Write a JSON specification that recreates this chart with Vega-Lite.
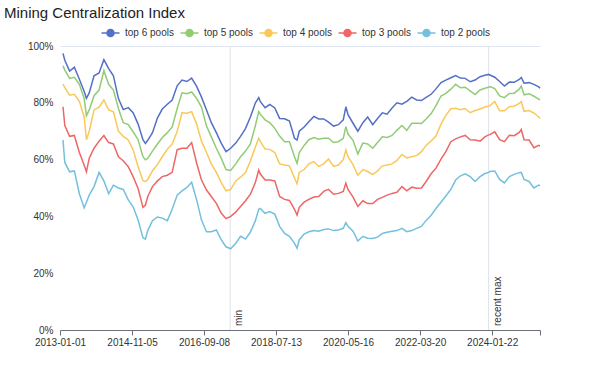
{
  "$schema": "https://vega.github.io/schema/vega-lite/v6.json",
  "width": 480,
  "height": 284,
  "autosize": {"type": "none"},
  "padding": {"left": 60, "top": 46, "right": 60, "bottom": 54},
  "background": "white",
  "config": {"view": {"stroke": null}, "font": "Liberation Sans"},
  "title": {"text": "Mining Centralization Index", "anchor": "start", "frame": "group", "dx": -56, "offset": 6, "fontSize": 15, "fontWeight": "normal", "color": "#222222"},
  "encoding": {
    "x": {"field": "d", "type": "temporal",
      "scale": {"type": "utc", "domain": [{"year": 2013, "month": 1, "date": 1, "utc": true}, {"year": 2025, "month": 4, "date": 13, "utc": true}]},
      "axis": {"title": null, "grid": false,
        "values": [{"year": 2013, "month": 1, "date": 1, "utc": true}, {"year": 2014, "month": 11, "date": 5, "utc": true}, {"year": 2016, "month": 9, "date": 8, "utc": true}, {"year": 2018, "month": 7, "date": 13, "utc": true}, {"year": 2020, "month": 5, "date": 16, "utc": true}, {"year": 2022, "month": 3, "date": 20, "utc": true}, {"year": 2024, "month": 1, "date": 22, "utc": true}, {"year": 2025, "month": 4, "date": 13, "utc": true}],
        "labelExpr": "utcyear(datum.value) == 2025 ? '' : utcFormat(datum.value, '%Y-%m-%d')",
        "labelOverlap": false, "labelBound": false, "labelFlush": false,
        "domainColor": "#6e7079", "tickColor": "#6e7079", "tickSize": 5, "labelPadding": 2,
        "labelFontSize": 10, "labelColor": "#333333"}}
  },
  "layer": [
    {"data": {"values": [{"d": "2017-05-10", "label": "min"}, {"d": "2023-12-20", "label": "recent max"}]},
     "mark": {"type": "rule", "color": "#dde1e8", "strokeWidth": 1},
     "encoding": {}},
    {"encoding": {
      "y": {"field": "v", "type": "quantitative",
        "scale": {"domain": [0, 100], "nice": false},
        "axis": {"title": null, "values": [0, 20, 40, 60, 80, 100], "labelExpr": "datum.value + '%'", "domain": false, "ticks": false, "labelPadding": 7, "labelFontSize": 10, "labelColor": "#333333",
          "gridColor": "#e0e6f1", "gridOpacity": {"condition": {"test": "datum.value == 100", "value": 1}, "value": 0}}},
      "color": {"datum": "top 6 pools", "type": "nominal",
        "scale": {"domain": ["top 6 pools", "top 5 pools", "top 4 pools", "top 3 pools", "top 2 pools"], "range": ["#5470c6", "#91cc75", "#fac858", "#ee6666", "#73c0de"]},
        "legend": {"orient": "none", "legendX": 45, "legendY": -19, "direction": "horizontal", "title": null, "padding": 0,
          "symbolType": "M-2,0L-0.78,0M0.78,0L2,0M0.78,0A0.78,0.78,0,1,1,-0.78,0A0.78,0.78,0,1,1,0.78,0Z",
          "symbolSize": 81, "symbolStrokeWidth": 1.5, "labelFontSize": 10, "labelColor": "#333333", "labelOffset": 9, "columnPadding": 3,
          "encode": {"symbols": {"update": {"fill": {"scale": "color", "field": "value"}, "fillOpacity": {"value": 1}}}}}}
     },
     "layer": [
      {"data": {"values": [
{"d":"2013-01-29","v":97.4},{"d":"2013-02-15","v":95.0},{"d":"2013-04-01","v":91.2},{"d":"2013-05-15","v":92.5},{"d":"2013-07-01","v":88.3},{"d":"2013-08-15","v":84.0},{"d":"2013-09-05","v":81.6},{"d":"2013-10-01","v":83.5},{"d":"2013-11-15","v":89.5},
{"d":"2014-01-01","v":90.5},{"d":"2014-02-15","v":95.2},{"d":"2014-04-01","v":92.0},{"d":"2014-05-15","v":89.5},{"d":"2014-07-01","v":81.5},{"d":"2014-08-15","v":77.6},{"d":"2014-10-01","v":78.3},{"d":"2014-11-15","v":76.5},
{"d":"2015-01-01","v":72.5},{"d":"2015-02-15","v":67.0},{"d":"2015-03-10","v":65.7},{"d":"2015-04-01","v":66.8},{"d":"2015-05-15","v":69.5},{"d":"2015-07-01","v":74.7},{"d":"2015-08-15","v":77.8},{"d":"2015-10-01","v":79.5},{"d":"2015-11-15","v":81.0},
{"d":"2016-01-01","v":86.0},{"d":"2016-02-15","v":88.0},{"d":"2016-04-01","v":87.5},{"d":"2016-05-15","v":88.7},{"d":"2016-07-01","v":85.8},{"d":"2016-08-15","v":82.0},{"d":"2016-10-01","v":77.5},{"d":"2016-11-15","v":73.0},
{"d":"2017-01-01","v":69.5},{"d":"2017-02-15","v":65.8},{"d":"2017-04-01","v":62.8},{"d":"2017-05-15","v":64.0},{"d":"2017-07-01","v":65.8},{"d":"2017-08-15","v":68.2},{"d":"2017-10-01","v":71.0},{"d":"2017-11-15","v":75.0},
{"d":"2018-01-01","v":80.0},{"d":"2018-02-01","v":81.8},{"d":"2018-02-15","v":80.5},{"d":"2018-04-01","v":78.3},{"d":"2018-05-15","v":79.4},{"d":"2018-07-01","v":78.2},{"d":"2018-08-15","v":74.5},{"d":"2018-10-01","v":74.4},{"d":"2018-11-15","v":73.6},
{"d":"2019-01-01","v":67.5},{"d":"2019-01-25","v":66.9},{"d":"2019-02-15","v":70.0},{"d":"2019-04-01","v":71.5},{"d":"2019-05-15","v":73.3},{"d":"2019-07-01","v":75.2},{"d":"2019-08-15","v":74.3},{"d":"2019-10-01","v":74.3},{"d":"2019-11-15","v":73.2},
{"d":"2020-01-01","v":71.8},{"d":"2020-02-15","v":72.3},{"d":"2020-04-01","v":74.0},{"d":"2020-04-25","v":78.6},{"d":"2020-05-15","v":75.8},{"d":"2020-07-01","v":72.8},{"d":"2020-08-15","v":70.0},{"d":"2020-10-01","v":73.0},{"d":"2020-11-15","v":75.0},
{"d":"2021-01-01","v":72.3},{"d":"2021-02-15","v":74.5},{"d":"2021-04-01","v":76.5},{"d":"2021-05-15","v":76.0},{"d":"2021-07-01","v":78.2},{"d":"2021-08-15","v":80.0},{"d":"2021-10-01","v":79.5},{"d":"2021-11-15","v":80.5},
{"d":"2022-01-01","v":82.0},{"d":"2022-02-15","v":81.0},{"d":"2022-04-01","v":80.8},{"d":"2022-05-15","v":81.9},{"d":"2022-07-01","v":83.0},{"d":"2022-08-15","v":84.9},{"d":"2022-10-01","v":87.1},{"d":"2022-11-15","v":88.0},
{"d":"2023-01-01","v":88.8},{"d":"2023-02-15","v":89.6},{"d":"2023-04-01","v":88.7},{"d":"2023-05-15","v":88.6},{"d":"2023-07-01","v":87.4},{"d":"2023-08-15","v":88.0},{"d":"2023-10-01","v":89.2},{"d":"2023-11-15","v":89.7},{"d":"2023-12-20","v":90.0},
{"d":"2024-01-01","v":89.8},{"d":"2024-02-15","v":89.0},{"d":"2024-04-01","v":87.5},{"d":"2024-05-15","v":85.9},{"d":"2024-07-01","v":87.3},{"d":"2024-08-15","v":87.2},{"d":"2024-10-01","v":88.2},{"d":"2024-10-20","v":88.9},{"d":"2024-11-15","v":86.9},
{"d":"2025-01-01","v":87.1},{"d":"2025-02-15","v":86.5},{"d":"2025-04-01","v":85.6},{"d":"2025-04-13","v":85.1}]},
       "mark": {"type": "line", "strokeWidth": 1.5},
       "encoding": {"color": {"datum": "top 6 pools", "type": "nominal"}}},
      {"data": {"values": [
{"d":"2013-01-29","v":93.0},{"d":"2013-02-15","v":91.5},{"d":"2013-04-01","v":88.6},{"d":"2013-05-15","v":89.0},{"d":"2013-07-01","v":86.5},{"d":"2013-08-15","v":81.5},{"d":"2013-09-05","v":75.5},{"d":"2013-10-01","v":77.5},{"d":"2013-11-15","v":82.5},
{"d":"2014-01-01","v":84.5},{"d":"2014-02-15","v":91.3},{"d":"2014-04-01","v":86.5},{"d":"2014-05-15","v":84.5},{"d":"2014-07-01","v":78.0},{"d":"2014-08-15","v":73.0},{"d":"2014-10-01","v":72.3},{"d":"2014-11-15","v":69.8},
{"d":"2015-01-01","v":67.0},{"d":"2015-02-15","v":61.0},{"d":"2015-03-10","v":59.9},{"d":"2015-04-01","v":60.4},{"d":"2015-05-15","v":63.0},{"d":"2015-07-01","v":65.5},{"d":"2015-08-15","v":67.8},{"d":"2015-10-01","v":69.5},{"d":"2015-11-15","v":71.5},
{"d":"2016-01-01","v":78.0},{"d":"2016-02-15","v":83.5},{"d":"2016-04-01","v":83.2},{"d":"2016-05-15","v":83.8},{"d":"2016-07-01","v":81.5},{"d":"2016-08-15","v":78.5},{"d":"2016-10-01","v":71.8},{"d":"2016-11-15","v":68.0},
{"d":"2017-01-01","v":64.0},{"d":"2017-02-15","v":60.5},{"d":"2017-04-01","v":56.5},{"d":"2017-05-15","v":56.2},{"d":"2017-07-01","v":58.5},{"d":"2017-08-15","v":61.0},{"d":"2017-10-01","v":63.0},{"d":"2017-11-15","v":65.5},
{"d":"2018-01-01","v":72.0},{"d":"2018-02-01","v":76.9},{"d":"2018-02-15","v":76.0},{"d":"2018-04-01","v":74.0},{"d":"2018-05-15","v":73.0},{"d":"2018-07-01","v":71.0},{"d":"2018-08-15","v":68.3},{"d":"2018-10-01","v":66.3},{"d":"2018-11-15","v":66.3},
{"d":"2019-01-01","v":61.0},{"d":"2019-01-25","v":58.7},{"d":"2019-02-15","v":62.5},{"d":"2019-04-01","v":65.0},{"d":"2019-05-15","v":67.0},{"d":"2019-07-01","v":67.8},{"d":"2019-08-15","v":67.2},{"d":"2019-10-01","v":67.5},{"d":"2019-11-15","v":67.5},
{"d":"2020-01-01","v":66.0},{"d":"2020-02-15","v":66.3},{"d":"2020-04-01","v":67.5},{"d":"2020-04-25","v":71.6},{"d":"2020-05-15","v":69.0},{"d":"2020-07-01","v":66.8},{"d":"2020-08-15","v":62.0},{"d":"2020-10-01","v":65.8},{"d":"2020-11-15","v":65.5},
{"d":"2021-01-01","v":64.0},{"d":"2021-02-15","v":66.0},{"d":"2021-04-01","v":68.0},{"d":"2021-05-15","v":67.8},{"d":"2021-07-01","v":68.5},{"d":"2021-08-15","v":70.3},{"d":"2021-10-01","v":72.0},{"d":"2021-11-15","v":70.3},
{"d":"2022-01-01","v":72.8},{"d":"2022-02-15","v":72.8},{"d":"2022-04-01","v":72.7},{"d":"2022-05-15","v":74.3},{"d":"2022-07-01","v":76.2},{"d":"2022-08-15","v":79.0},{"d":"2022-10-01","v":82.4},{"d":"2022-11-15","v":83.3},
{"d":"2023-01-01","v":84.8},{"d":"2023-02-15","v":86.5},{"d":"2023-04-01","v":85.3},{"d":"2023-05-15","v":85.5},{"d":"2023-07-01","v":84.2},{"d":"2023-08-15","v":82.9},{"d":"2023-10-01","v":84.5},{"d":"2023-11-15","v":85.1},{"d":"2023-12-20","v":85.5},
{"d":"2024-01-01","v":85.7},{"d":"2024-02-15","v":85.0},{"d":"2024-04-01","v":82.4},{"d":"2024-05-15","v":81.8},{"d":"2024-07-01","v":83.3},{"d":"2024-08-15","v":83.4},{"d":"2024-10-01","v":84.8},{"d":"2024-10-20","v":85.9},{"d":"2024-11-15","v":82.8},
{"d":"2025-01-01","v":83.2},{"d":"2025-02-15","v":82.3},{"d":"2025-04-01","v":81.3},{"d":"2025-04-13","v":81.0}]},
       "mark": {"type": "line", "strokeWidth": 1.5},
       "encoding": {"color": {"datum": "top 5 pools", "type": "nominal"}}},
      {"data": {"values": [
{"d":"2013-01-29","v":86.6},{"d":"2013-02-15","v":85.3},{"d":"2013-04-01","v":82.7},{"d":"2013-05-15","v":83.0},{"d":"2013-07-01","v":80.5},{"d":"2013-08-15","v":75.0},{"d":"2013-09-05","v":67.0},{"d":"2013-10-01","v":70.0},{"d":"2013-11-15","v":77.5},
{"d":"2014-01-01","v":78.5},{"d":"2014-02-15","v":81.0},{"d":"2014-04-01","v":77.5},{"d":"2014-05-15","v":76.8},{"d":"2014-07-01","v":70.0},{"d":"2014-08-15","v":68.2},{"d":"2014-10-01","v":66.9},{"d":"2014-11-15","v":63.5},
{"d":"2015-01-01","v":57.5},{"d":"2015-02-15","v":52.5},{"d":"2015-03-10","v":52.3},{"d":"2015-04-01","v":53.0},{"d":"2015-05-15","v":56.0},{"d":"2015-07-01","v":58.3},{"d":"2015-08-15","v":61.0},{"d":"2015-10-01","v":63.7},{"d":"2015-11-15","v":65.5},
{"d":"2016-01-01","v":70.0},{"d":"2016-02-15","v":76.5},{"d":"2016-04-01","v":76.3},{"d":"2016-05-15","v":76.9},{"d":"2016-07-01","v":72.5},{"d":"2016-08-15","v":66.5},{"d":"2016-10-01","v":62.5},{"d":"2016-11-15","v":58.5},
{"d":"2017-01-01","v":55.5},{"d":"2017-02-15","v":52.0},{"d":"2017-04-01","v":49.0},{"d":"2017-05-15","v":49.5},{"d":"2017-07-01","v":52.5},{"d":"2017-08-15","v":53.8},{"d":"2017-10-01","v":55.5},{"d":"2017-11-15","v":59.5},
{"d":"2018-01-01","v":64.5},{"d":"2018-02-01","v":67.5},{"d":"2018-02-15","v":66.5},{"d":"2018-04-01","v":63.7},{"d":"2018-05-15","v":63.6},{"d":"2018-07-01","v":62.5},{"d":"2018-08-15","v":58.5},{"d":"2018-10-01","v":58.1},{"d":"2018-11-15","v":57.8},
{"d":"2019-01-01","v":53.5},{"d":"2019-01-25","v":51.5},{"d":"2019-02-15","v":55.5},{"d":"2019-04-01","v":56.5},{"d":"2019-05-15","v":58.5},{"d":"2019-07-01","v":59.3},{"d":"2019-08-15","v":57.6},{"d":"2019-10-01","v":58.5},{"d":"2019-11-15","v":60.2},
{"d":"2020-01-01","v":57.6},{"d":"2020-02-15","v":58.1},{"d":"2020-04-01","v":60.0},{"d":"2020-04-25","v":63.4},{"d":"2020-05-15","v":61.0},{"d":"2020-07-01","v":58.2},{"d":"2020-08-15","v":54.5},{"d":"2020-10-01","v":56.5},{"d":"2020-11-15","v":55.8},
{"d":"2021-01-01","v":54.7},{"d":"2021-02-15","v":56.0},{"d":"2021-04-01","v":57.8},{"d":"2021-05-15","v":58.1},{"d":"2021-07-01","v":58.5},{"d":"2021-08-15","v":59.7},{"d":"2021-10-01","v":61.8},{"d":"2021-11-15","v":60.6},
{"d":"2022-01-01","v":61.0},{"d":"2022-02-15","v":61.4},{"d":"2022-04-01","v":62.8},{"d":"2022-05-15","v":65.0},{"d":"2022-07-01","v":66.6},{"d":"2022-08-15","v":68.3},{"d":"2022-10-01","v":72.5},{"d":"2022-11-15","v":75.6},
{"d":"2023-01-01","v":77.9},{"d":"2023-02-15","v":78.1},{"d":"2023-04-01","v":77.6},{"d":"2023-05-15","v":78.0},{"d":"2023-07-01","v":76.5},{"d":"2023-08-15","v":77.3},{"d":"2023-10-01","v":77.8},{"d":"2023-11-15","v":78.5},{"d":"2023-12-20","v":78.8},
{"d":"2024-01-01","v":79.0},{"d":"2024-02-15","v":80.5},{"d":"2024-04-01","v":77.2},{"d":"2024-05-15","v":77.2},{"d":"2024-07-01","v":78.6},{"d":"2024-08-15","v":78.8},{"d":"2024-10-01","v":79.8},{"d":"2024-10-20","v":80.4},{"d":"2024-11-15","v":77.0},
{"d":"2025-01-01","v":77.3},{"d":"2025-02-15","v":76.4},{"d":"2025-04-01","v":75.0},{"d":"2025-04-13","v":74.5}]},
       "mark": {"type": "line", "strokeWidth": 1.5},
       "encoding": {"color": {"datum": "top 4 pools", "type": "nominal"}}},
      {"data": {"values": [
{"d":"2013-01-29","v":78.6},{"d":"2013-02-15","v":72.0},{"d":"2013-04-01","v":68.2},{"d":"2013-05-15","v":68.5},{"d":"2013-07-01","v":62.5},{"d":"2013-08-15","v":58.0},{"d":"2013-09-05","v":55.7},{"d":"2013-10-01","v":60.5},{"d":"2013-11-15","v":64.0},
{"d":"2014-01-01","v":66.5},{"d":"2014-02-15","v":68.5},{"d":"2014-04-01","v":66.0},{"d":"2014-05-15","v":65.5},{"d":"2014-07-01","v":61.0},{"d":"2014-08-15","v":59.6},{"d":"2014-10-01","v":57.5},{"d":"2014-11-15","v":54.0},
{"d":"2015-01-01","v":49.8},{"d":"2015-02-15","v":43.2},{"d":"2015-03-10","v":44.0},{"d":"2015-04-01","v":47.0},{"d":"2015-05-15","v":50.5},{"d":"2015-07-01","v":52.5},{"d":"2015-08-15","v":54.0},{"d":"2015-10-01","v":54.5},{"d":"2015-11-15","v":55.5},
{"d":"2016-01-01","v":63.5},{"d":"2016-02-15","v":64.0},{"d":"2016-04-01","v":64.0},{"d":"2016-05-15","v":66.0},{"d":"2016-07-01","v":58.7},{"d":"2016-08-15","v":52.8},{"d":"2016-10-01","v":49.3},{"d":"2016-11-15","v":47.0},
{"d":"2017-01-01","v":44.6},{"d":"2017-02-15","v":41.2},{"d":"2017-04-01","v":39.2},{"d":"2017-05-15","v":40.0},{"d":"2017-07-01","v":41.5},{"d":"2017-08-15","v":43.5},{"d":"2017-10-01","v":45.5},{"d":"2017-11-15","v":47.8},
{"d":"2018-01-01","v":52.0},{"d":"2018-02-01","v":56.3},{"d":"2018-02-15","v":55.0},{"d":"2018-04-01","v":52.8},{"d":"2018-05-15","v":52.8},{"d":"2018-07-01","v":52.5},{"d":"2018-08-15","v":47.0},{"d":"2018-10-01","v":46.0},{"d":"2018-11-15","v":45.6},
{"d":"2019-01-01","v":42.5},{"d":"2019-01-25","v":40.5},{"d":"2019-02-15","v":43.2},{"d":"2019-04-01","v":45.0},{"d":"2019-05-15","v":46.0},{"d":"2019-07-01","v":46.8},{"d":"2019-08-15","v":47.0},{"d":"2019-10-01","v":48.8},{"d":"2019-11-15","v":49.5},
{"d":"2020-01-01","v":47.8},{"d":"2020-02-15","v":48.1},{"d":"2020-04-01","v":48.8},{"d":"2020-04-25","v":51.7},{"d":"2020-05-15","v":49.5},{"d":"2020-07-01","v":46.8},{"d":"2020-08-15","v":43.5},{"d":"2020-10-01","v":45.5},{"d":"2020-11-15","v":44.5},
{"d":"2021-01-01","v":44.5},{"d":"2021-02-15","v":46.0},{"d":"2021-04-01","v":46.7},{"d":"2021-05-15","v":47.5},{"d":"2021-07-01","v":48.1},{"d":"2021-08-15","v":48.5},{"d":"2021-10-01","v":50.5},{"d":"2021-11-15","v":49.0},
{"d":"2022-01-01","v":50.3},{"d":"2022-02-15","v":49.9},{"d":"2022-04-01","v":50.0},{"d":"2022-05-15","v":52.3},{"d":"2022-07-01","v":55.0},{"d":"2022-08-15","v":57.0},{"d":"2022-10-01","v":60.2},{"d":"2022-11-15","v":62.8},
{"d":"2023-01-01","v":66.3},{"d":"2023-02-15","v":67.3},{"d":"2023-04-01","v":68.0},{"d":"2023-05-15","v":68.5},{"d":"2023-07-01","v":67.0},{"d":"2023-08-15","v":66.9},{"d":"2023-10-01","v":66.5},{"d":"2023-11-15","v":68.0},{"d":"2023-12-20","v":68.7},
{"d":"2024-01-01","v":68.8},{"d":"2024-02-15","v":69.8},{"d":"2024-04-01","v":67.0},{"d":"2024-05-15","v":66.3},{"d":"2024-07-01","v":68.6},{"d":"2024-08-15","v":68.4},{"d":"2024-10-01","v":69.6},{"d":"2024-10-20","v":70.6},{"d":"2024-11-15","v":67.0},
{"d":"2025-01-01","v":66.9},{"d":"2025-02-15","v":64.2},{"d":"2025-04-01","v":65.0},{"d":"2025-04-13","v":64.8}]},
       "mark": {"type": "line", "strokeWidth": 1.5},
       "encoding": {"color": {"datum": "top 3 pools", "type": "nominal"}}},
      {"data": {"values": [
{"d":"2013-01-29","v":66.9},{"d":"2013-02-15","v":59.0},{"d":"2013-04-01","v":55.7},{"d":"2013-05-15","v":56.0},{"d":"2013-07-01","v":48.0},{"d":"2013-08-15","v":43.0},{"d":"2013-09-05","v":45.0},{"d":"2013-10-01","v":47.5},{"d":"2013-11-15","v":50.5},
{"d":"2014-01-01","v":55.5},{"d":"2014-02-15","v":52.5},{"d":"2014-04-01","v":48.0},{"d":"2014-05-15","v":51.0},{"d":"2014-07-01","v":50.0},{"d":"2014-08-15","v":49.5},{"d":"2014-10-01","v":45.8},{"d":"2014-11-15","v":43.4},
{"d":"2015-01-01","v":38.7},{"d":"2015-02-15","v":32.5},{"d":"2015-03-10","v":32.0},{"d":"2015-04-01","v":35.0},{"d":"2015-05-15","v":38.5},{"d":"2015-07-01","v":39.8},{"d":"2015-08-15","v":39.4},{"d":"2015-10-01","v":38.5},{"d":"2015-11-15","v":42.5},
{"d":"2016-01-01","v":47.5},{"d":"2016-02-15","v":49.0},{"d":"2016-04-01","v":50.2},{"d":"2016-05-15","v":52.0},{"d":"2016-07-01","v":45.8},{"d":"2016-08-15","v":38.7},{"d":"2016-10-01","v":34.6},{"d":"2016-11-15","v":34.6},
{"d":"2017-01-01","v":35.2},{"d":"2017-02-15","v":31.8},{"d":"2017-04-01","v":29.3},{"d":"2017-05-15","v":28.6},{"d":"2017-07-01","v":30.5},{"d":"2017-08-15","v":33.0},{"d":"2017-10-01","v":32.0},{"d":"2017-11-15","v":34.5},
{"d":"2018-01-01","v":38.5},{"d":"2018-02-01","v":42.5},{"d":"2018-02-15","v":42.8},{"d":"2018-04-01","v":41.1},{"d":"2018-05-15","v":41.7},{"d":"2018-07-01","v":40.8},{"d":"2018-08-15","v":36.5},{"d":"2018-10-01","v":34.0},{"d":"2018-11-15","v":33.0},
{"d":"2019-01-01","v":30.5},{"d":"2019-01-25","v":28.8},{"d":"2019-02-15","v":31.8},{"d":"2019-04-01","v":33.8},{"d":"2019-05-15","v":34.6},{"d":"2019-07-01","v":35.0},{"d":"2019-08-15","v":34.8},{"d":"2019-10-01","v":35.4},{"d":"2019-11-15","v":35.6},
{"d":"2020-01-01","v":35.0},{"d":"2020-02-15","v":35.2},{"d":"2020-04-01","v":35.8},{"d":"2020-04-25","v":37.8},{"d":"2020-05-15","v":36.5},{"d":"2020-07-01","v":34.8},{"d":"2020-08-15","v":31.3},{"d":"2020-10-01","v":33.0},{"d":"2020-11-15","v":32.3},
{"d":"2021-01-01","v":32.2},{"d":"2021-02-15","v":32.7},{"d":"2021-04-01","v":34.0},{"d":"2021-05-15","v":34.4},{"d":"2021-07-01","v":34.8},{"d":"2021-08-15","v":35.0},{"d":"2021-10-01","v":35.8},{"d":"2021-11-15","v":34.6},
{"d":"2022-01-01","v":35.0},{"d":"2022-02-15","v":35.8},{"d":"2022-04-01","v":36.5},{"d":"2022-05-15","v":38.6},{"d":"2022-07-01","v":40.4},{"d":"2022-08-15","v":42.8},{"d":"2022-10-01","v":45.0},{"d":"2022-11-15","v":47.2},
{"d":"2023-01-01","v":49.5},{"d":"2023-02-15","v":52.8},{"d":"2023-04-01","v":54.3},{"d":"2023-05-15","v":55.0},{"d":"2023-07-01","v":54.0},{"d":"2023-08-15","v":52.3},{"d":"2023-10-01","v":54.0},{"d":"2023-11-15","v":55.1},{"d":"2023-12-20","v":55.5},
{"d":"2024-01-01","v":55.8},{"d":"2024-02-15","v":56.0},{"d":"2024-04-01","v":53.0},{"d":"2024-05-15","v":51.8},{"d":"2024-07-01","v":54.0},{"d":"2024-08-15","v":54.8},{"d":"2024-10-01","v":55.4},{"d":"2024-10-20","v":55.5},{"d":"2024-11-15","v":53.0},
{"d":"2025-01-01","v":52.3},{"d":"2025-02-15","v":50.0},{"d":"2025-04-01","v":51.0},{"d":"2025-04-13","v":50.8}]},
       "mark": {"type": "line", "strokeWidth": 1.5},
       "encoding": {"color": {"datum": "top 2 pools", "type": "nominal"}}}
     ]},
    {"data": {"values": [{"d": "2017-05-10", "label": "min"}, {"d": "2023-12-20", "label": "recent max"}]},
     "mark": {"type": "text", "angle": 270, "align": "left", "baseline": "top", "dx": 4, "dy": 4, "fontSize": 10, "color": "#333333"},
     "encoding": {"y": {"datum": 0, "type": "quantitative"}, "text": {"field": "label"}}}
  ]
}
